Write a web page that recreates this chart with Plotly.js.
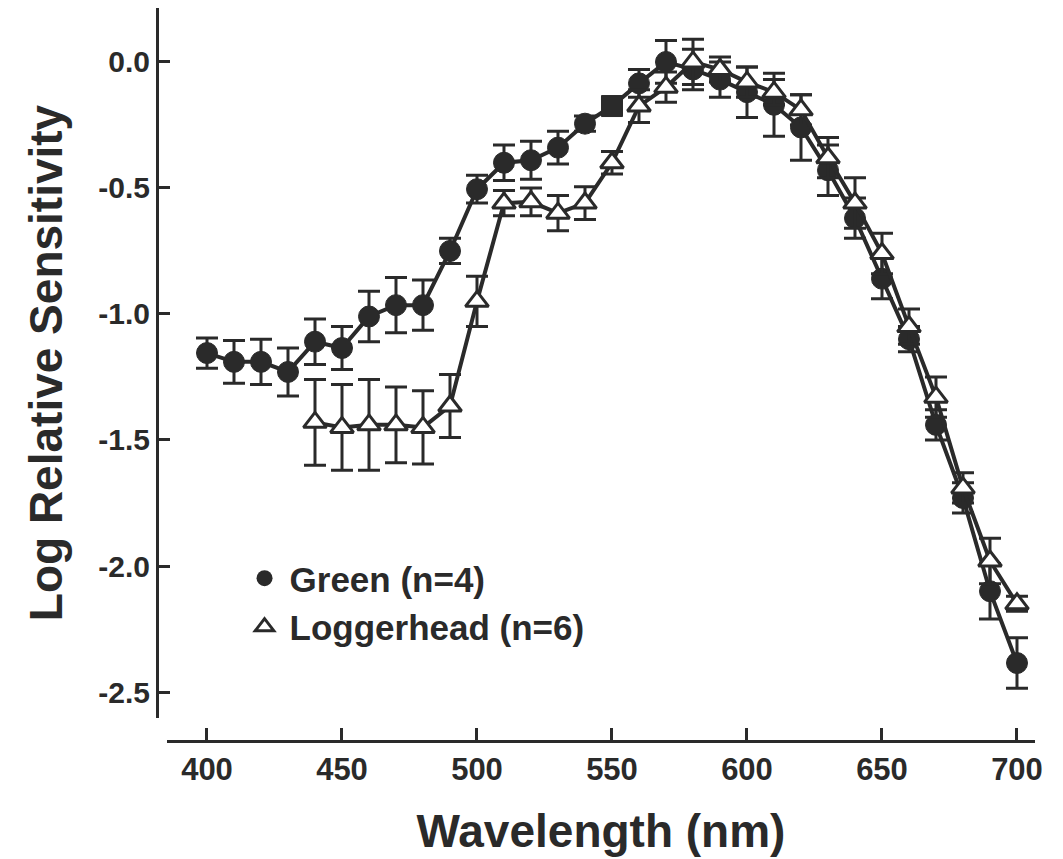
<!DOCTYPE html>
<html>
<head>
<meta charset="utf-8">
<script src="https://cdn.plot.ly/plotly-3.0.1.min.js"></script>
<style>html,body{margin:0;padding:0;background:#fff;}#chart{width:1063px;height:859px;}</style>
</head>
<body>
<div id="chart"></div>
<script>
// Wavelengths (nm)
const greenWavelength = [400,410,420,430,440,450,460,470,480,490,500,510,520,530,540,550,560,570,580,590,600,610,620,630,640,650,660,670,680,690,700];
const greenSensitivity = [-1.155,-1.19,-1.19,-1.23,-1.11,-1.135,-1.01,-0.965,-0.965,-0.75,-0.505,-0.40,-0.39,-0.34,-0.245,-0.175,-0.085,0.0,-0.03,-0.07,-0.12,-0.17,-0.26,-0.43,-0.62,-0.86,-1.10,-1.44,-1.73,-2.10,-2.385];
const greenError = [0.06,0.085,0.09,0.095,0.09,0.085,0.1,0.11,0.1,0.05,0.055,0.07,0.075,0.065,0.03,0.03,0.055,0.085,0.08,0.07,0.1,0.125,0.13,0.1,0.08,0.08,0.05,0.06,0.06,0.11,0.1];

const loggerWavelength = [440,450,460,470,480,490,500,510,520,530,540,550,560,570,580,590,600,610,620,630,640,650,660,670,680,690,700];
const loggerSensitivity = [-1.43,-1.45,-1.44,-1.44,-1.45,-1.365,-0.95,-0.56,-0.555,-0.60,-0.56,-0.40,-0.175,-0.10,0.0,-0.03,-0.08,-0.12,-0.19,-0.38,-0.56,-0.76,-1.05,-1.33,-1.69,-1.98,-2.15];
const loggerError = [0.17,0.17,0.18,0.15,0.145,0.125,0.1,0.05,0.055,0.07,0.065,0.045,0.065,0.06,0.09,0.05,0.06,0.05,0.06,0.08,0.1,0.08,0.07,0.08,0.06,0.09,0.03];

const seriesNames = ['Green (n=4)', 'Loggerhead (n=6)'];
const yTickValues = [0, -0.5, -1.0, -1.5, -2.0, -2.5];
const yTickLabels = ['0.0', '-0.5', '-1.0', '-1.5', '-2.0', '-2.5'];
const xTickValues = [400, 450, 500, 550, 600, 650, 700];
const xTickLabels = ['400', '450', '500', '550', '600', '650', '700'];

const INK = '#2a2a2a';
const FONT = 'Liberation Sans, Arial, Helvetica, sans-serif';

const greenSymbols = greenWavelength.map(w => w === 550 ? 'square' : 'circle');

const traces = [
  {
    x: greenWavelength, y: greenSensitivity, type: 'scatter', mode: 'lines+markers',
    showlegend: false, cliponaxis: false,
    line: {color: INK, width: 4},
    marker: {symbol: greenSymbols, size: 21, color: INK, line: {color: INK, width: 1}},
    error_y: {type: 'data', array: greenError, visible: true, color: INK, thickness: 3, width: 11}
  },
  {
    x: loggerWavelength, y: loggerSensitivity, type: 'scatter', mode: 'lines+markers',
    showlegend: false, cliponaxis: false,
    line: {color: INK, width: 4},
    marker: {symbol: 'triangle-up', size: 20, color: '#ffffff', line: {color: INK, width: 3}},
    error_y: {type: 'data', array: loggerError, visible: true, color: INK, thickness: 3, width: 11}
  },
  {
    x: [null], y: [null], type: 'scatter', mode: 'markers', name: seriesNames[0],
    marker: {symbol: 'circle', size: 18, color: INK}
  },
  {
    x: [null], y: [null], type: 'scatter', mode: 'markers', name: seriesNames[1],
    marker: {symbol: 'triangle-up', size: 16, color: '#ffffff', line: {color: INK, width: 3}}
  }
];

const layout = {
  width: 1063, height: 859,
  margin: {l: 157, r: 28, t: 8, b: 118},
  paper_bgcolor: '#ffffff', plot_bgcolor: '#ffffff',
  font: {family: FONT, color: INK},
  showlegend: true,
  legend: {
    x: 0.094, y: 0.262, xanchor: 'left', yanchor: 'top',
    bgcolor: 'rgba(0,0,0,0)', borderwidth: 0,
    font: {family: FONT, size: 35, color: INK, weight: 'bold'},
    itemwidth: 40, tracegroupgap: 0
  },
  xaxis: {
    range: [385.19, 706.67], domain: [0.0114, 1],
    anchor: 'free', position: 0,
    showline: true, linecolor: INK, linewidth: 3,
    ticks: 'inside', ticklen: 12, tickwidth: 3, tickcolor: INK,
    tickvals: xTickValues, ticktext: xTickLabels,
    tickfont: {family: FONT, size: 31, color: INK, weight: 'bold'},
    showgrid: false, zeroline: false,
    title: {text: 'Wavelength (nm)', font: {family: FONT, size: 46, color: INK, weight: 'bold'}, standoff: 28}
  },
  yaxis: {
    range: [-2.603, 0.214], domain: [0.0314, 1],
    anchor: 'free', position: 0,
    showline: true, linecolor: INK, linewidth: 3,
    ticks: 'inside', ticklen: 11, tickwidth: 3, tickcolor: INK,
    tickvals: yTickValues, ticktext: yTickLabels,
    tickfont: {family: FONT, size: 30, color: INK, weight: 'bold'},
    showgrid: false, zeroline: false,
    title: {text: 'Log Relative Sensitivity', font: {family: FONT, size: 46, color: INK, weight: 'bold'}, standoff: 20}
  }
};

Plotly.newPlot('chart', traces, layout, {displayModeBar: false, staticPlot: true});
</script>
</body>
</html>
